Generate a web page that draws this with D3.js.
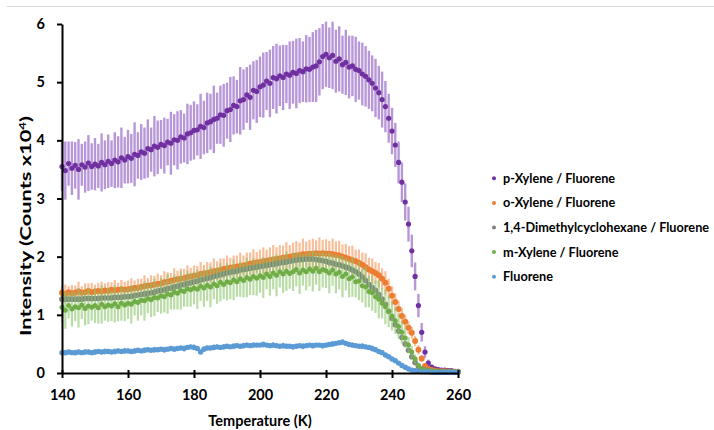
<!DOCTYPE html>
<html>
<head>
<meta charset="utf-8">
<script src="https://cdn.jsdelivr.net/npm/d3@7/dist/d3.min.js"></script>
<style>
  html, body { margin: 0; padding: 0; background: #fff; }
  svg { display: block; }
  text { font-family: Lato, "Open Sans", sans-serif; font-weight: 700; fill: #000; }
</style>
</head>
<body>
<svg id="chart" width="714" height="430"></svg>
<script>
// Temperature grid (K)
const temperature = [
  140,141,142,143,144,145,146,147,148,149,150,151,152,153,154,155,156,157,158,159,
  160,161,162,163,164,165,166,167,168,169,170,171,172,173,174,175,176,177,178,179,
  180,181,182,183,184,185,186,187,188,189,190,191,192,193,194,195,196,197,198,199,
  200,201,202,203,204,205,206,207,208,209,210,211,212,213,214,215,216,217,218,219,
  220,221,222,223,224,225,226,227,228,229,230,231,232,233,234,235,236,237,238,239,
  240,241,242,243,244,245,246,247,248,249,250,251,252,253,254,255,256,257,258,259,260
];

// Intensity (Counts x10^4) per system
const pXylene = [
  3.55,3.48,3.60,3.52,3.57,3.50,3.58,3.54,3.61,3.55,3.59,3.56,3.62,3.58,3.64,3.60,3.66,3.63,3.70,3.66,
  3.72,3.69,3.76,3.74,3.80,3.78,3.86,3.84,3.90,3.88,3.93,3.91,3.97,3.95,4.01,4.00,4.06,4.04,4.11,4.13,
  4.17,4.18,4.24,4.22,4.30,4.32,4.36,4.38,4.44,4.43,4.51,4.53,4.60,4.58,4.68,4.70,4.78,4.74,4.86,4.84,
  4.92,4.95,5.02,4.98,5.08,5.06,5.11,5.08,5.14,5.12,5.17,5.15,5.20,5.18,5.23,5.22,5.26,5.28,5.35,5.44,
  5.48,5.42,5.46,5.36,5.40,5.30,5.34,5.26,5.28,5.22,5.20,5.14,5.10,5.04,4.98,4.90,4.82,4.70,4.58,4.38,
  4.16,3.92,3.62,3.28,2.94,2.56,2.10,1.66,1.16,0.70,0.36,0.17,0.10,0.07,0.06,0.05,0.05,0.04,0.04,0.03,0.03
];
const pXyleneErr = [
  0.42,0.50,0.38,0.46,0.40,0.52,0.36,0.44,0.48,0.40,0.45,0.38,0.50,0.42,0.46,0.40,0.48,0.44,0.52,0.40,
  0.46,0.42,0.55,0.40,0.48,0.44,0.50,0.38,0.52,0.46,0.42,0.48,0.40,0.54,0.44,0.50,0.46,0.42,0.52,0.48,
  0.50,0.44,0.56,0.46,0.52,0.48,0.58,0.44,0.50,0.54,0.48,0.56,0.50,0.46,0.58,0.52,0.48,0.56,0.50,0.54,
  0.52,0.56,0.50,0.58,0.54,0.60,0.52,0.56,0.50,0.58,0.54,0.60,0.56,0.52,0.58,0.56,0.60,0.62,0.58,0.56,
  0.56,0.52,0.58,0.54,0.56,0.50,0.56,0.54,0.52,0.56,0.50,0.54,0.52,0.50,0.48,0.50,0.46,0.48,0.44,0.42,
  0.40,0.38,0.36,0.34,0.32,0.30,0.28,0.24,0.20,0.16,0.10,0.06,0.04,0.03,0.03,0.02,0.02,0.02,0.02,0.02,0.02
];

const oXylene = [
  1.38,1.36,1.39,1.37,1.38,1.40,1.38,1.39,1.41,1.39,1.40,1.41,1.40,1.42,1.41,1.43,1.42,1.43,1.44,1.43,
  1.44,1.45,1.46,1.46,1.48,1.49,1.50,1.51,1.52,1.53,1.54,1.56,1.57,1.58,1.60,1.61,1.62,1.63,1.65,1.66,
  1.67,1.68,1.70,1.71,1.72,1.73,1.75,1.76,1.77,1.79,1.80,1.81,1.82,1.83,1.84,1.85,1.86,1.88,1.89,1.90,
  1.91,1.92,1.93,1.94,1.95,1.96,1.97,1.98,1.99,2.00,2.01,2.02,2.03,2.04,2.04,2.05,2.05,2.06,2.05,2.06,
  2.05,2.05,2.04,2.03,2.02,2.00,1.98,1.96,1.94,1.92,1.89,1.86,1.82,1.78,1.75,1.72,1.68,1.62,1.55,1.45,
  1.33,1.22,1.10,0.98,0.88,0.78,0.69,0.55,0.40,0.25,0.12,0.07,0.05,0.04,0.03,0.03,0.03,0.02,0.02,0.02,0.02
];
const oXyleneErr = [
  0.12,0.16,0.10,0.14,0.12,0.17,0.11,0.15,0.13,0.16,0.12,0.14,0.17,0.12,0.15,0.13,0.18,0.12,0.16,0.14,
  0.15,0.18,0.13,0.16,0.14,0.19,0.13,0.17,0.15,0.18,0.14,0.19,0.16,0.14,0.20,0.15,0.18,0.16,0.20,0.15,
  0.18,0.16,0.21,0.15,0.19,0.17,0.22,0.16,0.20,0.18,0.22,0.17,0.20,0.19,0.23,0.17,0.21,0.19,0.24,0.18,
  0.21,0.24,0.19,0.22,0.25,0.20,0.23,0.21,0.26,0.20,0.23,0.25,0.21,0.27,0.22,0.24,0.26,0.22,0.28,0.23,
  0.25,0.22,0.27,0.23,0.25,0.21,0.24,0.22,0.25,0.20,0.23,0.21,0.24,0.20,0.22,0.19,0.21,0.18,0.20,0.17,
  0.16,0.15,0.14,0.13,0.12,0.11,0.10,0.09,0.08,0.06,0.04,0.03,0.02,0.02,0.02,0.02,0.02,0.02,0.02,0.02,0.02
];

const dmch = [
  1.27,1.27,1.27,1.27,1.27,1.27,1.27,1.28,1.28,1.28,1.28,1.28,1.29,1.29,1.29,1.29,1.30,1.30,1.30,1.31,
  1.31,1.32,1.33,1.34,1.35,1.36,1.37,1.38,1.39,1.41,1.42,1.43,1.45,1.46,1.48,1.49,1.51,1.52,1.54,1.55,
  1.57,1.58,1.60,1.61,1.63,1.64,1.66,1.67,1.69,1.70,1.72,1.73,1.74,1.75,1.77,1.78,1.79,1.80,1.81,1.82,
  1.83,1.84,1.85,1.86,1.87,1.88,1.89,1.90,1.91,1.92,1.93,1.94,1.95,1.95,1.96,1.96,1.96,1.95,1.94,1.93,
  1.92,1.90,1.89,1.87,1.86,1.84,1.82,1.80,1.77,1.74,1.70,1.65,1.59,1.52,1.47,1.42,1.35,1.27,1.18,1.06,
  0.94,0.83,0.72,0.61,0.50,0.39,0.28,0.18,0.11,0.07,0.05,0.04,0.03,0.03,0.03,0.02,0.02,0.02,0.02,0.02,0.02
];
const dmchErr = [
  0.03,0.04,0.03,0.03,0.04,0.03,0.04,0.03,0.03,0.04,0.03,0.04,0.03,0.03,0.04,0.03,0.04,0.03,0.03,0.04,
  0.03,0.04,0.03,0.03,0.04,0.03,0.04,0.03,0.03,0.04,0.03,0.04,0.03,0.03,0.04,0.03,0.04,0.03,0.03,0.04,
  0.03,0.04,0.03,0.03,0.04,0.03,0.04,0.03,0.03,0.04,0.03,0.04,0.03,0.03,0.04,0.03,0.04,0.03,0.03,0.04,
  0.03,0.04,0.03,0.03,0.04,0.03,0.04,0.03,0.03,0.04,0.03,0.04,0.03,0.03,0.04,0.03,0.04,0.03,0.03,0.04,
  0.03,0.04,0.03,0.03,0.04,0.03,0.04,0.03,0.03,0.04,0.03,0.04,0.03,0.03,0.04,0.03,0.04,0.03,0.03,0.04,
  0.03,0.03,0.03,0.03,0.03,0.03,0.02,0.02,0.02,0.02,0.01,0.01,0.01,0.01,0.01,0.01,0.01,0.01,0.01,0.01,0.01
];

const mXylene = [
  1.13,1.08,1.16,1.10,1.14,1.12,1.17,1.11,1.15,1.13,1.16,1.12,1.18,1.14,1.17,1.15,1.19,1.14,1.20,1.17,
  1.20,1.18,1.23,1.21,1.25,1.24,1.28,1.26,1.30,1.29,1.33,1.31,1.36,1.34,1.39,1.37,1.42,1.40,1.45,1.43,
  1.46,1.44,1.49,1.46,1.51,1.48,1.53,1.50,1.56,1.52,1.57,1.55,1.60,1.57,1.62,1.59,1.64,1.61,1.66,1.63,
  1.67,1.64,1.70,1.66,1.72,1.68,1.74,1.70,1.75,1.71,1.74,1.78,1.72,1.77,1.74,1.79,1.75,1.80,1.74,1.78,
  1.76,1.72,1.77,1.70,1.73,1.66,1.70,1.62,1.65,1.57,1.58,1.50,1.48,1.40,1.38,1.31,1.27,1.20,1.14,1.06,
  0.98,0.90,0.80,0.70,0.60,0.48,0.36,0.24,0.13,0.07,0.05,0.04,0.03,0.03,0.02,0.02,0.02,0.02,0.02,0.02,0.02
];
const mXyleneErr = [
  0.26,0.32,0.22,0.30,0.25,0.34,0.24,0.29,0.31,0.23,0.30,0.27,0.33,0.24,0.29,0.26,0.32,0.25,0.30,0.28,
  0.27,0.33,0.24,0.31,0.26,0.34,0.25,0.30,0.32,0.24,0.31,0.27,0.34,0.25,0.30,0.28,0.33,0.26,0.31,0.29,
  0.28,0.34,0.25,0.32,0.27,0.35,0.26,0.31,0.33,0.25,0.32,0.28,0.35,0.26,0.31,0.29,0.34,0.27,0.32,0.30,
  0.29,0.35,0.26,0.33,0.28,0.36,0.27,0.32,0.34,0.26,0.33,0.29,0.36,0.27,0.32,0.30,0.35,0.28,0.33,0.31,
  0.30,0.35,0.27,0.33,0.29,0.36,0.28,0.32,0.34,0.27,0.33,0.29,0.35,0.27,0.31,0.28,0.33,0.26,0.30,0.27,
  0.25,0.23,0.21,0.19,0.17,0.14,0.11,0.08,0.05,0.03,0.02,0.02,0.01,0.01,0.01,0.01,0.01,0.01,0.01,0.01,0.01
];

const fluorene = [
  0.35,0.35,0.36,0.35,0.35,0.36,0.35,0.36,0.36,0.35,0.36,0.37,0.36,0.37,0.37,0.36,0.37,0.38,0.37,0.38,
  0.38,0.37,0.38,0.39,0.38,0.39,0.40,0.39,0.40,0.40,0.41,0.40,0.41,0.42,0.41,0.42,0.43,0.42,0.44,0.45,
  0.44,0.42,0.36,0.41,0.43,0.43,0.44,0.45,0.44,0.45,0.46,0.45,0.46,0.47,0.46,0.47,0.48,0.47,0.48,0.48,
  0.48,0.49,0.48,0.47,0.48,0.47,0.46,0.47,0.46,0.46,0.45,0.46,0.47,0.46,0.47,0.48,0.47,0.48,0.48,0.47,
  0.48,0.49,0.50,0.51,0.52,0.53,0.51,0.49,0.48,0.47,0.46,0.46,0.45,0.44,0.42,0.40,0.37,0.35,0.31,0.28,
  0.24,0.21,0.17,0.13,0.10,0.07,0.05,0.04,0.03,0.02,0.02,0.02,0.01,0.01,0.01,0.01,0.01,0.01,0.01,0.01,0.01
];
const fluoreneErr = [
  0.03,0.05,0.04,0.03,0.05,0.04,0.03,0.05,0.04,0.03,0.05,0.04,0.03,0.05,0.04,0.03,0.05,0.04,0.03,0.05,
  0.04,0.03,0.05,0.04,0.03,0.05,0.04,0.03,0.05,0.04,0.03,0.05,0.04,0.03,0.05,0.04,0.03,0.05,0.04,0.03,
  0.05,0.04,0.03,0.05,0.04,0.03,0.05,0.04,0.03,0.05,0.04,0.03,0.05,0.04,0.03,0.05,0.04,0.03,0.05,0.04,
  0.03,0.05,0.04,0.03,0.05,0.04,0.03,0.05,0.04,0.03,0.05,0.04,0.03,0.05,0.04,0.03,0.05,0.04,0.03,0.05,
  0.04,0.03,0.05,0.04,0.03,0.05,0.04,0.03,0.05,0.04,0.03,0.05,0.04,0.03,0.05,0.04,0.03,0.04,0.03,0.03,
  0.03,0.03,0.03,0.02,0.02,0.02,0.02,0.01,0.01,0.01,0.01,0.01,0.01,0.01,0.01,0.01,0.01,0.01,0.01,0.01,0.01
];

const xTicks = [140, 160, 180, 200, 220, 240, 260];
const yTicks = [0, 1, 2, 3, 4, 5, 6];

// Series, in drawing / legend order
const seriesNames = ["p-Xylene / Fluorene", "o-Xylene / Fluorene", "1,4-Dimethylcyclohexane / Fluorene", "m-Xylene / Fluorene", "Fluorene"];
const seriesValues = [pXylene, oXylene, dmch, mXylene, fluorene];
const seriesErrors = [pXyleneErr, oXyleneErr, dmchErr, mXyleneErr, fluoreneErr];
const dotColors = ["#7030a0", "#ed7d31", "#7f7f7f", "#70ad47", "#5b9bd5"];
const barColors = ["#9a6bc8", "#f6a97a", "#9a9a9a", "#8cc46a", "#7fb2e0"];
const barWidths = [2.4, 2.2, 1.6, 2.2, 2.0];
const barOpacity = [0.7, 0.75, 0.6, 0.6, 0.8];
const dotRadius = [2.6, 3.0, 2.8, 2.5, 2.7];

const svg = d3.select("#chart");

// thin rule across the top of the figure
svg.append("line")
  .attr("x1", 7).attr("x2", 714).attr("y1", 6.5).attr("y2", 6.5)
  .attr("stroke", "#d9d9d9").attr("stroke-width", 1);

const x = d3.scaleLinear().domain([140, 260]).range([62, 458]);
const y = d3.scaleLinear().domain([0, 6]).range([373, 24]);

const plot = svg.append("g");

seriesNames.forEach((name, s) => {
  const pts = temperature.map((t, i) => ({ t, v: seriesValues[s][i], e: seriesErrors[s][i] }));
  const g = plot.append("g");
  g.selectAll("line.err").data(pts).join("line")
    .attr("class", "err")
    .attr("x1", d => x(d.t)).attr("x2", d => x(d.t))
    .attr("y1", d => y(d.v + d.e)).attr("y2", d => y(Math.max(0, d.v - d.e)))
    .attr("stroke", barColors[s]).attr("stroke-width", barWidths[s]).attr("stroke-opacity", barOpacity[s]);
  g.selectAll("circle").data(pts).join("circle")
    .attr("cx", d => x(d.t)).attr("cy", d => y(d.v))
    .attr("r", dotRadius[s]).attr("fill", dotColors[s]);
});

// Axes
const xAxis = svg.append("g")
  .attr("transform", `translate(0,${y(0)})`)
  .call(d3.axisBottom(x).tickValues(xTicks).tickSize(5).tickSizeOuter(0).tickPadding(12));
xAxis.selectAll(".tick line").attr("y1", -3);

const yAxis = svg.append("g")
  .attr("transform", `translate(${x(140)},0)`)
  .call(d3.axisLeft(y).tickValues(yTicks).tickFormat(d3.format("d")).tickSize(5).tickSizeOuter(0).tickPadding(12));

[xAxis, yAxis].forEach(a => {
  a.attr("font-family", null).attr("font-size", null);
  a.select(".domain").attr("stroke", "#000").attr("stroke-width", 2);
  a.selectAll(".tick line").attr("stroke", "#000").attr("stroke-width", 2);
  a.selectAll(".tick text").style("font-size", "14.5px").attr("fill", "#000");
});

// Axis titles
svg.append("text")
  .attr("x", x(200)).attr("y", 426)
  .attr("text-anchor", "middle")
  .style("font-size", "14.5px")
  .text("Temperature (K)");

const yTitle = svg.append("text")
  .attr("transform", "translate(31,226) rotate(-90)")
  .attr("text-anchor", "middle")
  .attr("textLength", 220)
  .attr("lengthAdjust", "spacingAndGlyphs")
  .style("font-size", "15px");
yTitle.append("tspan").text("Intensity (Counts x10");
yTitle.append("tspan").attr("dy", -5).style("font-size", "9px").text("4");
yTitle.append("tspan").attr("dy", 5).text(")");

// Legend
const legend = svg.append("g");
seriesNames.forEach((name, s) => {
  const ly = 178.3 + s * 24.6;
  legend.append("circle").attr("cx", 494).attr("cy", ly).attr("r", 2).attr("fill", dotColors[s]);
  legend.append("text").attr("x", 503).attr("y", ly).attr("dy", "0.36em")
    .style("font-size", "12.7px").text(name);
});
</script>
</body>
</html>
